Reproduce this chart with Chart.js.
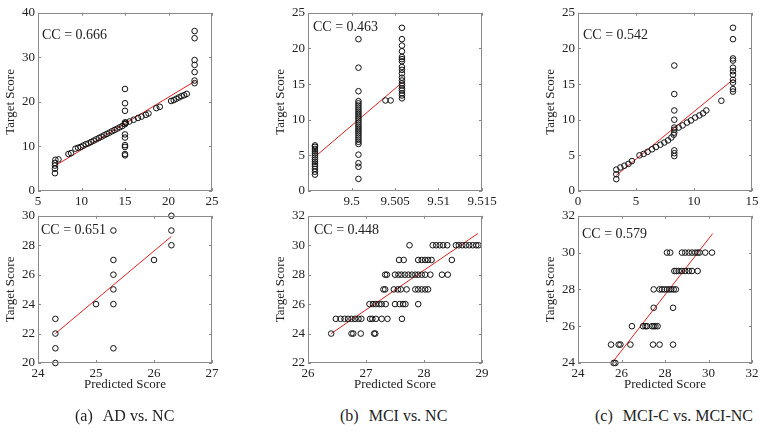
<!DOCTYPE html>
<html>
<head>
<meta charset="utf-8">
<script src="https://cdn.jsdelivr.net/npm/chart.js@4"></script>
<style>
body { margin:0; background:#fff; width:764px; height:434px; position:relative; overflow:hidden; font-family:"Liberation Serif", "Times New Roman", serif; }
canvas { position:absolute; }
.cap { position:absolute; top:408px; font-size:16px; line-height:16px; color:#222; white-space:nowrap; }
.cap span { margin-right:10px; }
</style>
</head>
<body>
<canvas id="aTop" width="231" height="211"></canvas>
<canvas id="aBot" width="231" height="187"></canvas>
<canvas id="bTop" width="231" height="211"></canvas>
<canvas id="bBot" width="231" height="187"></canvas>
<canvas id="cTop" width="231" height="211"></canvas>
<canvas id="cBot" width="231" height="187"></canvas>
<div class="cap" style="left:75px"><span>(a)</span>AD vs. NC</div>
<div class="cap" style="left:340px"><span>(b)</span>MCI vs. NC</div>
<div class="cap" style="left:595px"><span>(c)</span>MCI-C vs. MCI-NC</div>
<script>
// (a) AD vs. NC
var aTopX = [6.95,6.95,6.95,6.95,7.0,7.35,8.5,8.8,
  9.3,9.6,9.9,10.2,10.5,10.8,11.1,11.4,11.7,12.0,12.3,12.6,12.9,13.2,13.5,13.8,14.1,14.4,14.7,
  15,15,15,15,15,15,15,15,15,15,15,15.1,
  15.5,16.0,16.5,16.9,17.4,17.7,18.6,19.0,20.3,20.6,20.9,21.2,21.5,21.8,22.1,
  23,23,23,23,23,23,23];
var aTopY = [4.0,5.0,5.7,6.3,7.0,7.1,8.3,8.5,
  9.5,9.7,9.9,10.2,10.5,10.7,11.0,11.3,11.6,11.9,12.2,12.5,12.8,13.1,13.4,13.7,14.0,14.3,14.6,
  22.9,19.7,18.0,15.4,12.7,12.0,10.3,9.9,8.3,8.0,15.0,15.3,
  15.6,16.0,16.4,16.7,17.1,17.4,18.6,18.9,20.2,20.4,20.7,21.0,21.3,21.5,21.8,
  35.9,34.3,29.4,28.3,26.7,24.8,24.2];
var aTopFitX = [7, 23], aTopFitY = [5.7, 24.6];
var aBotX = [24.3,24.3,24.3,24.3,25.0,25.3,25.3,25.3,25.3,25.3,25.3,26.0,26.3,26.3,26.3];
var aBotY = [20,21,22,23,24,29,27,26,25,24,21,27,30,29,28];
var aBotFitX = [24.3, 26.3], aBotFitY = [22.0, 28.6];

// (b) MCI vs. NC
var bTopX = [9.4958,9.4958,9.4958,9.4958,9.4958,9.4958,9.4958,9.4958,9.4958,9.4958,9.4958,9.4958,9.4958,9.4958,
  9.5008,9.5008,9.5008,9.5008,9.5008,9.5008,9.5008,9.5008,9.5008,9.5008,9.5008,9.5008,9.5008,9.5008,
  9.5008,9.5008,9.5008,9.5008,9.5008,9.5008,9.5008,9.5008,9.5008,9.5008,9.5008,9.5008,9.5008,9.5008,
  9.5039,9.5045,
  9.5058,9.5058,9.5058,9.5058,9.5058,9.5058,9.5058,9.5058,9.5058,9.5058,9.5058,9.5058,9.5058,9.5058,
  9.5058,9.5058,9.5058,9.5058,9.5058];
var bTopY = [2.3,2.7,3.1,3.5,3.8,4.1,4.4,4.7,5.0,5.3,5.6,5.9,6.2,6.4,
  1.7,3.4,3.9,5.1,6.6,6.9,7.2,7.5,7.8,8.1,8.4,8.7,9.0,9.3,
  9.6,9.9,10.2,10.5,10.8,11.1,11.4,11.7,12.0,12.3,12.6,14.0,17.3,21.3,
  12.7,12.7,
  13.0,13.4,13.7,14.1,14.4,14.8,15.1,15.5,15.9,16.5,17.0,17.4,18.2,18.5,
  18.8,19.6,20.4,21.3,22.9];
var bTopFitX = [9.4958, 9.5059], bTopFitY = [4.8, 15.3];
var bBotX = [26.40,26.75,26.78,26.91,27.14,27.16,
  26.48,26.56,26.63,26.69,26.75,26.81,26.87,26.92,27.07,27.11,27.17,27.27,27.37,27.62,
  27.06,27.12,27.17,27.23,27.27,27.34,27.50,27.58,27.64,27.68,27.90,
  27.30,27.33,27.48,27.55,27.60,27.70,27.85,27.90,27.96,28.02,28.07,
  27.33,27.36,27.50,27.56,27.61,27.67,27.73,27.79,27.85,27.90,27.96,28.02,28.11,28.31,28.41,
  27.57,27.65,27.90,27.96,28.02,28.07,28.13,28.48,
  27.75,28.15,28.21,28.27,28.33,28.40,28.55,28.60,28.66,28.72,28.78,28.84,28.90,28.94];
var bBotY = [24,24,24,24,24,24,
  25,25,25,25,25,25,25,25,25,25,25,25,25,25,
  26,26,26,26,26,26,26,26,26,26,26,
  27,27,27,27,27,27,27,27,27,27,27,
  28,28,28,28,28,28,28,28,28,28,28,28,28,28,28,
  29,29,29,29,29,29,29,29,
  30,30,30,30,30,30,30,30,30,30,30,30,30,30];
var bBotFitX = [26.40, 28.93], bBotFitY = [24.0, 30.8];

// (c) MCI-C vs. MCI-NC
var cTopX = [3.30,3.30,3.30,3.65,4.0,4.35,4.65,5.3,5.66,6.0,6.38,6.72,7.1,7.44,7.76,8.05,8.25,
  8.3,8.3,8.3,8.3,8.3,8.3,8.3,8.3,8.3,8.3,
  8.68,9.02,9.4,9.74,10.1,10.46,10.78,11.06,12.36,
  13.36,13.36,13.36,13.36,13.36,13.36,13.36,13.36,13.36,13.36,13.36];
var cTopY = [1.66,2.35,3.0,3.3,3.55,3.8,4.2,5.0,5.2,5.5,5.85,6.17,6.5,6.8,7.1,7.5,7.9,
  17.6,13.6,11.3,10.0,8.9,8.6,8.2,5.7,5.3,4.9,
  8.9,9.2,9.6,9.9,10.3,10.6,10.9,11.3,12.66,
  22.9,21.3,18.6,18.3,17.3,16.8,16.3,15.6,15.2,14.3,13.95];
var cTopFitX = [3.3, 13.42], cTopFitY = [2.2, 15.7];
var cBotX = [25.64,25.72,
  25.52,25.87,25.95,26.41,27.45,27.75,28.37,
  26.48,26.99,27.10,27.17,27.40,27.48,27.56,27.66,
  27.48,28.37,
  27.48,27.75,27.86,27.97,28.09,28.20,28.29,28.40,28.50,
  28.43,28.52,28.63,28.78,28.93,29.09,29.24,29.50,
  28.09,28.24,28.78,28.93,29.09,29.24,29.39,29.50,29.59,29.85,30.16];
var cBotY = [24,24,
  25,25,25,25,25,25,25,
  26,26,26,26,26,26,26,26,
  27,27,
  28,28,28,28,28,28,28,28,28,
  29,29,29,29,29,29,29,29,
  30,30,30,30,30,30,30,30,30,30,30];
var cBotFitX = [25.56, 30.19], cBotFitY = [24.0, 31.03];

// axis ticks
var aTopXTicks = [5,10,15,20,25], aTopYTicks = [0,10,20,30,40];
var aBotXTicks = [24,25,26,27], aBotYTicks = [20,22,24,26,28,30];
var bTopXTicks = [9.5,9.505,9.51,9.515], bTopYTicks = [0,5,10,15,20,25];
var bBotXTicks = [26,27,28,29], bBotYTicks = [22,24,26,28,30,32];
var cTopXTicks = [0,5,10,15], cTopYTicks = [0,5,10,15,20,25];
var cBotXTicks = [24,26,28,30,32], cBotYTicks = [24,26,28,30,32];

var FONT = 'Liberation Serif';
var TXT = '#222';

// box with inward ticks + CC label
var frame = {
  id: 'frame',
  afterDraw: function(chart, args, opts) {
    var ctx = chart.ctx, a = chart.chartArea, x = chart.scales.x, y = chart.scales.y;
    ctx.save();
    ctx.strokeStyle = '#8a8a8a';
    ctx.lineWidth = 1;
    ctx.strokeRect(Math.round(a.left) + 0.5, Math.round(a.top) + 0.5, Math.round(a.width) - 1, Math.round(a.height) - 1);
    ctx.beginPath();
    x.ticks.forEach(function(t) {
      var px = Math.round(x.getPixelForValue(t.value)) + 0.5;
      ctx.moveTo(px, a.bottom); ctx.lineTo(px, a.bottom - 3);
      ctx.moveTo(px, a.top); ctx.lineTo(px, a.top + 3);
    });
    y.ticks.forEach(function(t) {
      var py = Math.round(y.getPixelForValue(t.value)) + 0.5;
      ctx.moveTo(a.left, py); ctx.lineTo(a.left + 3, py);
      ctx.moveTo(a.right, py); ctx.lineTo(a.right - 3, py);
    });
    ctx.stroke();
    ctx.fillStyle = TXT;
    ctx.font = '14px "' + FONT + '"';
    ctx.textBaseline = 'middle';
    ctx.fillText(opts.cc, a.left + opts.dx, a.top + opts.dy);
    ctx.restore();
  }
};

function toPts(xs, ys) {
  return xs.map(function(v, i) { return {x: v, y: ys[i]}; });
}

function panel(id, left, top, bottomRow, xs, ys, fx, fy, xt, yt, cc, dx, dy) {
  var el = document.getElementById(id);
  el.style.left = left + 'px';
  el.style.top = top + 'px';
  var xH = bottomRow ? 29 : 22;
  new Chart(el, {
    type: 'scatter',
    data: {
      datasets: [
        {
          data: toPts(xs, ys),
          clip: false,
          pointStyle: 'circle',
          pointRadius: 2.8,
          borderWidth: 1,
          borderColor: '#111',
          backgroundColor: 'rgba(0,0,0,0)'
        },
        {
          type: 'line',
          data: toPts(fx, fy),
          clip: false,
          borderColor: '#e3201c',
          borderWidth: 1,
          pointRadius: 0,
          fill: false
        }
      ]
    },
    options: {
      responsive: false,
      animation: false,
      layout: { padding: { top: 8, right: 18, left: 0, bottom: 0 } },
      plugins: {
        legend: { display: false },
        tooltip: { enabled: false },
        frame: { cc: cc, dx: dx, dy: dy }
      },
      scales: {
        x: {
          type: 'linear',
          min: xt[0] - (id == 'bTop' ? 0.005 : 0),
          max: xt[xt.length - 1],
          grid: { display: false, drawTicks: false },
          border: { display: false },
          afterBuildTicks: function(s) { s.ticks = xt.map(function(v) { return {value: v}; }); },
          afterFit: function(s) { s.height = xH; },
          ticks: { padding: 3, color: TXT, font: { family: FONT, size: 13 }, maxRotation: 0, autoSkip: false,
                   callback: function(v) { return String(v); } },
          title: { display: bottomRow, text: 'Predicted Score', color: TXT, padding: { top: 0, bottom: 0 },
                   font: { family: FONT, size: 13 } }
        },
        y: {
          type: 'linear',
          min: yt[0],
          max: yt[yt.length - 1],
          grid: { display: false, drawTicks: false },
          border: { display: false },
          afterBuildTicks: function(s) { s.ticks = yt.map(function(v) { return {value: v}; }); },
          afterFit: function(s) { s.width = 39; },
          ticks: { padding: 3, color: TXT, font: { family: FONT, size: 13 }, autoSkip: false,
                   callback: function(v) { return String(v); } },
          title: { display: true, text: 'Target Score', color: TXT, font: { family: FONT, size: 13 } }
        }
      }
    },
    plugins: [frame]
  });
}

panel('aTop', -1, 2, false, aTopX, aTopY, aTopFitX, aTopFitY, aTopXTicks, aTopYTicks, 'CC = 0.666', 4, 23);
panel('aBot', -1, 205, true, aBotX, aBotY, aBotFitX, aBotFitY, aBotXTicks, aBotYTicks, 'CC = 0.651', 3, 15);
panel('bTop', 269, 2, false, bTopX, bTopY, bTopFitX, bTopFitY, bTopXTicks, bTopYTicks, 'CC = 0.463', 5, 15);
panel('bBot', 269, 205, true, bBotX, bBotY, bBotFitX, bBotFitY, bBotXTicks, bBotYTicks, 'CC = 0.448', 6, 15);
panel('cTop', 539, 2, false, cTopX, cTopY, cTopFitX, cTopFitY, cTopXTicks, cTopYTicks, 'CC = 0.542', 5, 23);
panel('cBot', 539, 205, true, cBotX, cBotY, cBotFitX, cBotFitY, cBotXTicks, cBotYTicks, 'CC = 0.579', 4, 19);
</script>
</body>
</html>
